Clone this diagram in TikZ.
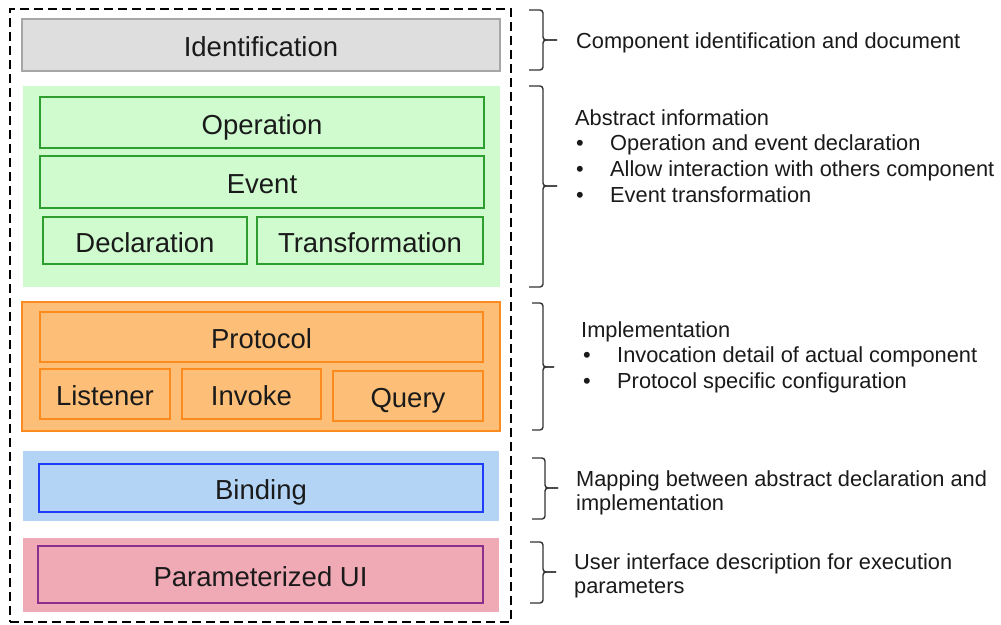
\documentclass[tikz,border=0pt]{standalone}
\usepackage{fontspec}
\setmainfont{Liberation Sans}
\definecolor{gfill}{HTML}{DEDEDE}
\definecolor{gline}{HTML}{A6A6A6}
\definecolor{grfill}{HTML}{CFFBCF}
\definecolor{grline}{HTML}{2E9E2E}
\definecolor{orfill}{HTML}{FDBF78}
\definecolor{orline}{HTML}{FB8B1E}
\definecolor{blfill}{HTML}{B3D4F5}
\definecolor{blline}{HTML}{1F3DFF}
\definecolor{pkfill}{HTML}{F0AAB5}
\definecolor{pkline}{HTML}{8C2E8C}
\definecolor{txt}{HTML}{1A1A1A}
\begin{document}
\begin{tikzpicture}[x=1pt,y=-1pt,
  panel/.style={rectangle, inner sep=0pt, draw=none},
  box/.style={rectangle, inner sep=0pt, line width=1.8pt, text=txt,
    font=\fontsize{27.5}{32}\selectfont, text height=23pt, text depth=0pt},
  desc/.style={anchor=base west, inner sep=0pt, text=txt,
    font=\fontsize{21.8}{26}\selectfont},
  bracepath/.style={line width=1.4pt, draw=black!80, rounded corners=3pt}]
\useasboundingbox (0,0) rectangle (1001,624);
\fill[white] (0,0) rectangle (1001,624);
% outer dashed frame
\node[rectangle, draw=black, line width=2.8pt, dash pattern=on 9pt off 5pt,
  minimum width=501pt, minimum height=613pt, inner sep=0pt] (outer) at (260.5,315.5) {};
% identification
\node[box, fill=gfill, draw=gline, minimum width=478pt, minimum height=52pt] (ident) at (261,45) {Identification};
% green panel
\node[panel, fill=grfill, minimum width=477pt, minimum height=201pt] (greenp) at (261.5,186.5) {};
\node[box, fill=grfill, draw=grline, minimum width=444pt, minimum height=51pt] (op) at (262,122.5) {Operation};
\node[box, fill=grfill, draw=grline, minimum width=444pt, minimum height=52pt] (ev) at (262,182) {Event};
\node[box, fill=grfill, draw=grline, minimum width=204pt, minimum height=47pt] (decl) at (145,240.5) {Declaration};
\node[box, fill=grfill, draw=grline, minimum width=226pt, minimum height=47pt] (trans) at (370,240.5) {Transformation};
% orange panel
\node[panel, fill=orfill, draw=orline, line width=1.8pt, minimum width=478pt, minimum height=129pt] (orangep) at (261,366.5) {};
\node[box, fill=orfill, draw=orline, minimum width=443pt, minimum height=50pt] (proto) at (261.5,337) {Protocol};
\node[box, fill=orfill, draw=orline, minimum width=130pt, minimum height=50pt] (listener) at (105,394) {Listener};
\node[box, fill=orfill, draw=orline, minimum width=139pt, minimum height=50pt] (invoke) at (251.5,394) {Invoke};
\node[box, fill=orfill, draw=orline, minimum width=150pt, minimum height=50pt] (query) at (408,396) {Query};
% blue panel
\node[panel, fill=blfill, minimum width=476pt, minimum height=70pt] (bluep) at (261,486) {};
\node[box, fill=blfill, draw=blline, minimum width=444pt, minimum height=48pt] (binding) at (261,488) {Binding};
% pink panel
\node[panel, fill=pkfill, minimum width=476pt, minimum height=74pt] (pinkp) at (261,575) {};
\node[box, fill=pkfill, draw=pkline, minimum width=445pt, minimum height=57pt] (pui) at (260.5,574.5) {Parameterized UI};
% braces
\draw[bracepath] (529,10) -- (543,10) -- (543,40) -- (557,40);
\draw[bracepath] (557,40) -- (543,40) -- (543,70) -- (529,70);
\draw[bracepath] (529,86) -- (543,86) -- (543,186) -- (557,186);
\draw[bracepath] (557,186) -- (543,186) -- (543,287) -- (529,287);
\draw[bracepath] (532,303) -- (543,303) -- (543,367) -- (554,367);
\draw[bracepath] (554,367) -- (543,367) -- (543,430) -- (532,430);
\draw[bracepath] (532,458) -- (545,458) -- (545,488) -- (558,488);
\draw[bracepath] (558,488) -- (545,488) -- (545,519) -- (532,519);
\draw[bracepath] (530,542) -- (543,542) -- (543,572) -- (556,572);
\draw[bracepath] (556,572) -- (543,572) -- (543,603) -- (530,603);
% descriptions
\node[desc] (d1) at (576,48) {Component identification and document};
\node[desc] (d2) at (575,125) {Abstract information};
\node[desc] (d2b1) at (576,150) {•};
\node[desc] (d2t1) at (610,150) {Operation and event declaration};
\node[desc] (d2b2) at (576,176) {•};
\node[desc] (d2t2) at (610,176) {Allow interaction with others component};
\node[desc] (d2b3) at (576,202) {•};
\node[desc] (d2t3) at (610,202) {Event transformation};
\node[desc] (d3) at (581,337) {Implementation};
\node[desc] (d3b1) at (583,362) {•};
\node[desc] (d3t1) at (617,362) {Invocation detail of actual component};
\node[desc] (d3b2) at (583,388) {•};
\node[desc] (d3t2) at (617,388) {Protocol specific configuration};
\node[desc] (d4a) at (576,486) {Mapping between abstract declaration and};
\node[desc] (d4b) at (576,510) {implementation};
\node[desc] (d5a) at (574,569) {User interface description for execution};
\node[desc] (d5b) at (574,593) {parameters};
\end{tikzpicture}
\end{document}
